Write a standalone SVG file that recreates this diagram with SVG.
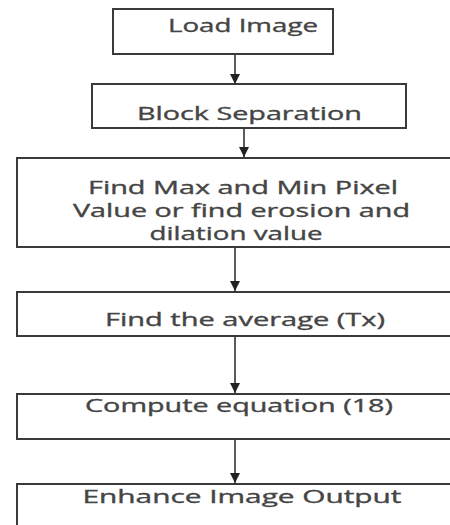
<svg xmlns="http://www.w3.org/2000/svg" width="450" height="525" viewBox="0 0 450 525">
<defs>
<style>
.box{fill:#ffffff;stroke:#3a3a3a;stroke-width:2}
.lbl{font-family:"Open Sans","Liberation Sans",sans-serif;font-size:18px;font-weight:normal;fill:#454545;stroke:#454545;stroke-width:0.35;text-anchor:middle}
.con{stroke:#333;stroke-width:1.6;fill:none}
</style>
<marker id="ah" markerWidth="10" markerHeight="10" refX="10" refY="5" orient="auto" markerUnits="userSpaceOnUse">
<path d="M0,0 L10,5 L0,10 Z" fill="#222"/>
</marker>
</defs>
<rect width="450" height="525" fill="#ffffff"/>
<g id="connectors">
<line class="con" x1="235" y1="54" x2="235" y2="84" marker-end="url(#ah)"/>
<line class="con" x1="244" y1="128" x2="244" y2="157" marker-end="url(#ah)"/>
<line class="con" x1="235" y1="247" x2="235" y2="291" marker-end="url(#ah)"/>
<line class="con" x1="235" y1="336" x2="235" y2="393" marker-end="url(#ah)"/>
<line class="con" x1="235" y1="439" x2="235" y2="483" marker-end="url(#ah)"/>
</g>
<g id="n1">
<rect class="box" x="113" y="9" width="220" height="45"/>
<text class="lbl" x="243" y="32" textLength="150" lengthAdjust="spacingAndGlyphs">Load Image</text>
</g>
<g id="n2">
<rect class="box" x="92" y="84" width="314" height="44"/>
<text class="lbl" x="249.5" y="120" textLength="225" lengthAdjust="spacingAndGlyphs">Block Separation</text>
</g>
<g id="n3">
<rect class="box" x="17" y="158" width="450" height="89"/>
<text class="lbl" x="243" y="194" textLength="310" lengthAdjust="spacingAndGlyphs">Find Max and Min Pixel</text>
<text class="lbl" x="241.5" y="217" textLength="337" lengthAdjust="spacingAndGlyphs">Value or find erosion and</text>
<text class="lbl" x="236" y="240" textLength="173" lengthAdjust="spacingAndGlyphs">dilation value</text>
</g>
<g id="n4">
<rect class="box" x="17" y="292" width="450" height="44"/>
<text class="lbl" x="245" y="326" textLength="280" lengthAdjust="spacingAndGlyphs">Find the average (Tx)</text>
</g>
<g id="n5">
<rect class="box" x="17" y="394" width="450" height="45"/>
<text class="lbl" x="239" y="412" textLength="308" lengthAdjust="spacingAndGlyphs">Compute equation (18)</text>
</g>
<g id="n6">
<rect class="box" x="17" y="484" width="450" height="60"/>
<text class="lbl" x="242" y="503" textLength="319" lengthAdjust="spacingAndGlyphs">Enhance Image Output</text>
</g>
</svg>
